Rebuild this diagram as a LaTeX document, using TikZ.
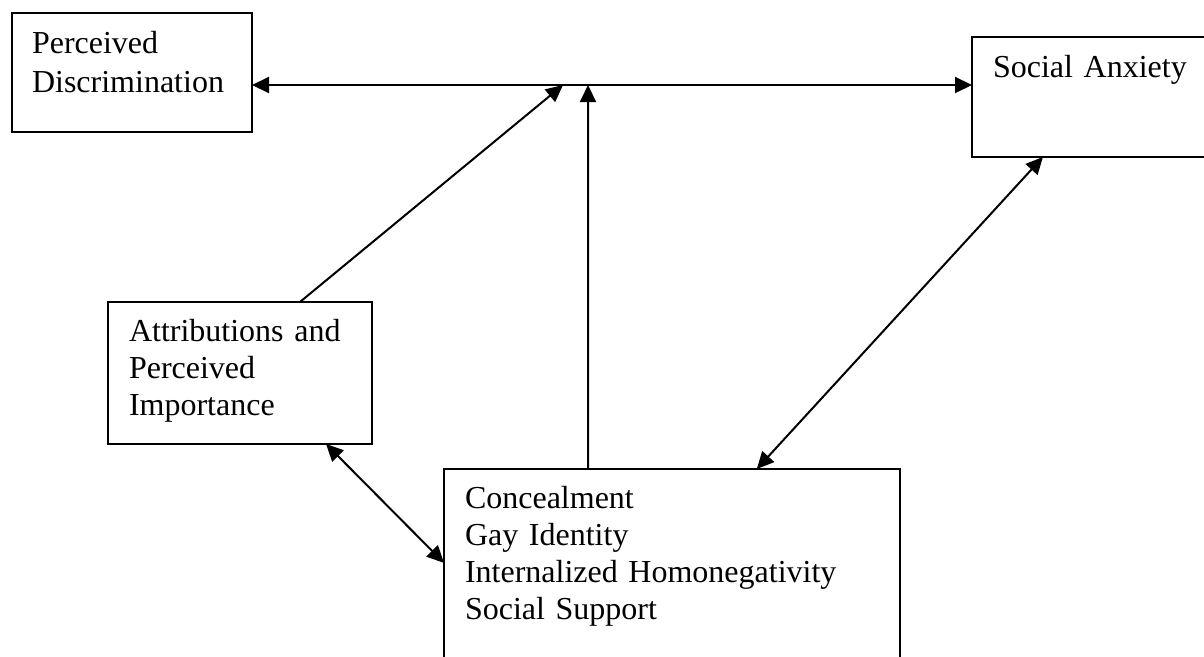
\documentclass[tikz,border=0pt]{standalone}
\usepackage{fontspec}
\setmainfont[WordSpace=0.85]{Liberation Serif}
\usetikzlibrary{arrows.meta,calc}
\begin{document}
\begin{tikzpicture}[x=1pt,y=-1pt,
  box/.style={draw=black,line width=2.8pt,rectangle,inner sep=0pt,outer sep=0pt,anchor=north west},
  txt/.style={anchor=base west,inner sep=0pt,outer sep=0pt,text width=420pt,align=left},
  conn/.style={line width=2pt,draw=black},
  tip/.style={-{Triangle[length=17pt,width=16pt]}},
  dtip/.style={{Triangle[length=17pt,width=16pt]}-{Triangle[length=17pt,width=16pt]}}]
\useasboundingbox (0,0) rectangle (1204,656);
\clip (0,0) rectangle (1204,656);
\fill[white] (0,0) rectangle (1204,656);
% boxes
\node[box,minimum width=240pt,minimum height=119pt] (b1) at (12,13) {};
\node[box,minimum width=258pt,minimum height=120pt] (b2) at (972,37) {};
\node[box,minimum width=264pt,minimum height=142pt] (b3) at (108,302) {};
\node[box,minimum width=456pt,minimum height=211pt] (b4) at (444,469) {};
% texts
\node[txt,font=\fontsize{32pt}{39pt}\selectfont] (t1) at (32,53) {Perceived\\Discrimination};
\node[txt,font=\fontsize{32pt}{37pt}\selectfont] (t2) at (993,77) {Social Anxiety};
\node[txt,font=\fontsize{32pt}{37pt}\selectfont] (t3) at (129,341) {Attributions and\\Perceived\\Importance};
\node[txt,font=\fontsize{32pt}{37.3pt}\selectfont] (t4) at (465,508) {Concealment\\Gay Identity\\Internalized Homonegativity\\Social Support};
% junction points on the horizontal line
\coordinate (jv) at (588,85);
\coordinate (jd) at (563,85);
% connectors
\draw[conn,dtip] (b1.east |- jv) -- (b2.west |- jv);
\draw[conn,tip] ($(b3.north west)!0.727!(b3.north east)$) -- (jd);
\draw[conn,tip] ($(b4.north west)!0.316!(b4.north east)$) -- (jv);
\draw[conn,dtip] ($(b4.north west)!0.686!(b4.north east)$) -- ($(b2.south west)!0.275!(b2.south east)$);
\draw[conn,dtip] ($(b3.south west)!0.826!(b3.south east)$) -- ($(b4.north west)!0.445!(b4.south west)$);
\end{tikzpicture}
\end{document}
